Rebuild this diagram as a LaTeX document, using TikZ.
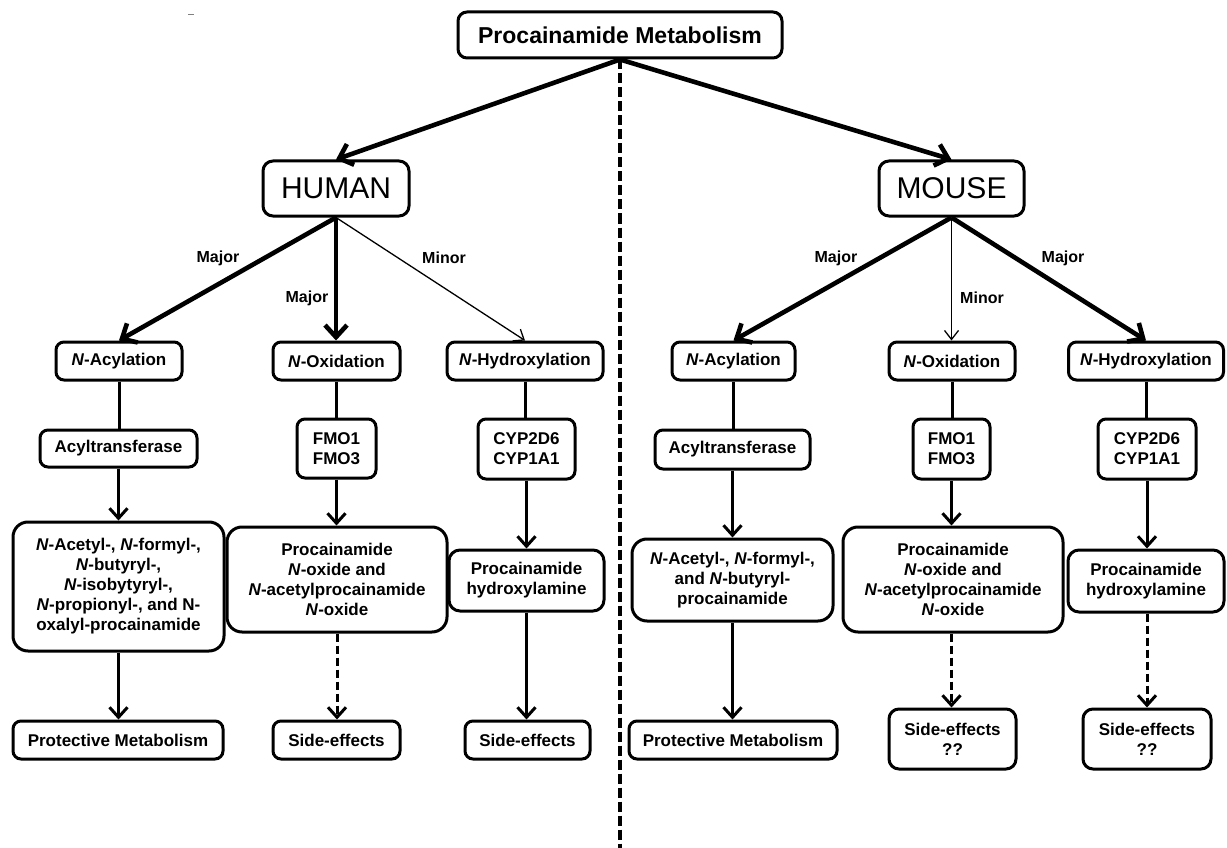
\documentclass[tikz,border=0pt]{standalone}
\usepackage{fontspec}
\setmainfont{Liberation Sans}
\usetikzlibrary{arrows.meta}
\begin{document}
\begin{tikzpicture}[x=1pt,y=-1pt,
  box/.style={draw, line width=3pt, rounded corners=8pt, inner sep=0pt, align=center,
    font=\bfseries\fontsize{17}{20}\selectfont},
  bigbox/.style={box, rounded corners=15pt},
  species/.style={draw, line width=3pt, rounded corners=10pt, inner sep=0pt,
    font=\fontsize{30}{34}\selectfont},
  thickarrow/.style={line width=4.6pt, -{Straight Barb[length=12pt,width=22pt]}},
  thinarrow/.style={line width=1.3pt, -{Straight Barb[length=9pt,width=14pt]}},
  link/.style={line width=3pt},
  flow/.style={line width=3pt, -{Straight Barb[length=10pt,width=18pt]}},
  dflow/.style={flow, dash pattern=on 8pt off 4pt},
  divider/.style={line width=4pt, dash pattern=on 10pt off 4pt},
  lab/.style={font=\bfseries\fontsize{16}{19}\selectfont, inner sep=0pt},
]
\useasboundingbox (0,0) rectangle (1227,848);

% stray mark
\draw[gray, line width=1pt] (188,15) -- (194,15);

% title
\node[box, rounded corners=9pt, minimum width=324pt, minimum height=46pt,
  font=\bfseries\fontsize{23}{27}\selectfont] (title) at (620,35) {Procainamide Metabolism};
\coordinate (dividerend) at (620,848);
\draw[divider] (title.south) -- (dividerend);

% species
\node[species, minimum width=146pt, minimum height=55pt] (human) at (336,188.5) {HUMAN};
\node[species, minimum width=145pt, minimum height=55pt] (mouse) at (951.5,188.5) {MOUSE};
\draw[thickarrow] (title.south) -- (human.north);
\draw[thickarrow] (title.south) -- (mouse.north);

% row 1
\node[box, minimum width=126pt, minimum height=38pt] (hacyl) at (119,361) {\textit{N}-Acylation};
\node[box, minimum width=127pt, minimum height=38pt] (hox) at (336.5,361) {\textit{N}-Oxidation};
\node[box, minimum width=156pt, minimum height=38pt] (hhyd) at (525,361) {\textit{N}-Hydroxylation};
\node[box, minimum width=123pt, minimum height=38pt] (macyl) at (733.5,361) {\textit{N}-Acylation};
\node[box, minimum width=126pt, minimum height=38pt] (mox) at (952,361) {\textit{N}-Oxidation};
\node[box, minimum width=155pt, minimum height=38pt] (mhyd) at (1146,361) {\textit{N}-Hydroxylation};

\draw[thickarrow] (human.south) -- (hacyl.north);
\draw[thickarrow] (human.south) -- (human.south |- hox.north);
\draw[thinarrow] (human.south) -- (hhyd.north);
\draw[thickarrow] (mouse.south) -- (macyl.north);
\draw[thinarrow] (mouse.south) -- (mouse.south |- mox.north);
\draw[thickarrow] (mouse.south) -- (mhyd.north);

\node[lab] (l1) at (218,258) {Major};
\node[lab] (l2) at (307,298) {Major};
\node[lab] (l3) at (444,258) {Minor};
\node[lab] (l4) at (836,258) {Major};
\node[lab] (l5) at (982,298) {Minor};
\node[lab] (l6) at (1063,258) {Major};

% row 2
\node[box, minimum width=157pt, minimum height=37pt] (hacyltr) at (118.5,448.5) {Acyltransferase};
\node[box, minimum width=79pt, minimum height=59pt] (hfmo) at (336.5,448.5) {FMO1\\FMO3};
\node[box, minimum width=97pt, minimum height=60pt] (hcyp) at (526.5,449) {CYP2D6\\CYP1A1};
\node[box, minimum width=155pt, minimum height=39pt] (macyltr) at (732.5,449.5) {Acyltransferase};
\node[box, minimum width=77pt, minimum height=60pt] (mfmo) at (951.5,449) {FMO1\\FMO3};
\node[box, minimum width=98pt, minimum height=60pt] (mcyp) at (1147,449) {CYP2D6\\CYP1A1};

\draw[link] (hacyl.south) -- (hacyl.south |- hacyltr.north);
\draw[link] (hox.south) -- (hox.south |- hfmo.north);
\draw[link] (hhyd.south) -- (hhyd.south |- hcyp.north);
\draw[link] (macyl.south) -- (macyl.south |- macyltr.north);
\draw[link] (mox.south) -- (mox.south |- mfmo.north);
\draw[link] (mhyd.south) -- (mhyd.south |- mcyp.north);

% row 3
\node[bigbox, minimum width=211pt, minimum height=129pt] (hprod1) at (118.5,586.5)
  {\textit{N}-Acetyl-, \textit{N}-formyl-,\\\textit{N}-butyryl-,\\\textit{N}-isobytyryl-,\\\textit{N}-propionyl-, and N-\\oxalyl-procainamide};
\node[bigbox, minimum width=220pt, minimum height=105pt] (hprod2) at (337,579.5)
  {Procainamide\\\textit{N}-oxide and\\\textit{N}-acetylprocainamide\\\textit{N}-oxide};
\node[bigbox, rounded corners=11pt, minimum width=155pt, minimum height=61pt] (hprod3) at (526.5,580.5)
  {Procainamide\\hydroxylamine};
\node[bigbox, minimum width=201pt, minimum height=82pt] (mprod1) at (732.5,580)
  {\textit{N}-Acetyl-, \textit{N}-formyl-,\\and \textit{N}-butyryl-\\procainamide};
\node[bigbox, minimum width=220pt, minimum height=105pt] (mprod2) at (953,579.5)
  {Procainamide\\\textit{N}-oxide and\\\textit{N}-acetylprocainamide\\\textit{N}-oxide};
\node[bigbox, rounded corners=11pt, minimum width=156pt, minimum height=62pt] (mprod3) at (1146,581)
  {Procainamide\\hydroxylamine};

\draw[flow] (hacyltr.south) -- (hacyltr.south |- hprod1.north);
\draw[flow] (hfmo.south) -- (hfmo.south |- hprod2.north);
\draw[flow] (hcyp.south) -- (hcyp.south |- hprod3.north);
\draw[flow] (macyltr.south) -- (macyltr.south |- mprod1.north);
\draw[flow] (mfmo.south) -- (mfmo.south |- mprod2.north);
\draw[flow] (mcyp.south) -- (mcyp.south |- mprod3.north);

% row 4
\node[box, minimum width=210pt, minimum height=38pt] (hprot) at (118,740) {Protective Metabolism};
\node[box, minimum width=127pt, minimum height=38pt] (hse2) at (336.5,740) {Side-effects};
\node[box, minimum width=125pt, minimum height=38pt] (hse3) at (527.5,740) {Side-effects};
\node[box, minimum width=208pt, minimum height=38pt] (mprot) at (733,740) {Protective Metabolism};
\node[box, rounded corners=10pt, minimum width=127pt, minimum height=60pt] (mse2) at (952.5,739) {Side-effects\\??};
\node[box, rounded corners=10pt, minimum width=128pt, minimum height=60pt] (mse3) at (1147,739) {Side-effects\\??};

\draw[flow] (hprod1.south) -- (hprod1.south |- hprot.north);
\draw[dflow] (hprod2.south) -- (hprod2.south |- hse2.north);
\draw[flow] (hcyp.south |- hprod3.south) -- (hcyp.south |- hse3.north);
\draw[flow] (mprod1.south) -- (mprod1.south |- mprot.north);
\draw[dflow] (mfmo.south |- mprod2.south) -- (mfmo.south |- mse2.north);
\draw[dflow] (mcyp.south |- mprod3.south) -- (mcyp.south |- mse3.north);
\end{tikzpicture}
\end{document}
